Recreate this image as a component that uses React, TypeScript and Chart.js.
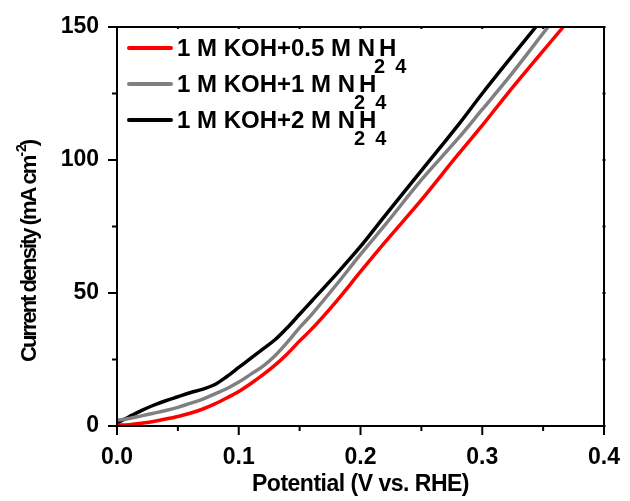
import React, { useEffect, useRef } from 'react';
import { Chart, registerables } from 'chart.js';
Chart.register(...registerables);

// Potential (V vs. RHE) and current density (mA cm^-2)
const potentialRed = [0, 0.01, 0.02, 0.03, 0.04, 0.05, 0.06, 0.07, 0.08, 0.09, 0.1, 0.11, 0.12, 0.13, 0.14, 0.15, 0.16, 0.18, 0.2, 0.22, 0.25, 0.28, 0.3, 0.32, 0.3665];
const currentRed = [0.3, 0.5, 1, 1.7, 2.6, 3.6, 4.8, 6.3, 8.2, 10.5, 13, 16, 19.3, 23, 27.2, 32, 36.5, 46.8, 58, 69, 85, 102, 113, 124.5, 150];

const potentialGray = [0, 0.01, 0.02, 0.03, 0.04, 0.05, 0.06, 0.07, 0.08, 0.09, 0.1, 0.11, 0.12, 0.13, 0.14, 0.15, 0.16, 0.18, 0.2, 0.22, 0.25, 0.28, 0.3, 0.32, 0.354];
const currentGray = [2.2, 2.8, 3.8, 4.8, 5.8, 7, 8.5, 10, 12, 14, 16.5, 19.5, 22.5, 26.5, 31.5, 37, 42, 53, 64.5, 75.5, 92.5, 108, 119, 130, 150];

const potentialBlack = [0, 0.01, 0.02, 0.03, 0.04, 0.05, 0.06, 0.07, 0.08, 0.09, 0.1, 0.11, 0.12, 0.13, 0.14, 0.15, 0.16, 0.18, 0.2, 0.22, 0.25, 0.28, 0.3, 0.32, 0.344];
const currentBlack = [1.1, 3.5, 5.8, 7.8, 9.5, 11, 12.5, 13.8, 15.5, 18.5, 22, 25.5, 29, 32.5, 37, 42, 47, 57, 67.5, 79, 96, 113, 125, 136.5, 150];

const seriesLabels = ['1 M KOH+0.5 M N₂H₄', '1 M KOH+1 M N₂H₄', '1 M KOH+2 M N₂H₄'];
const seriesColors = ['#ff0000', '#808080', '#000000'];

const xTitle = 'Potential (V vs. RHE)';
const yTitleMain = 'Current density (mA cm';
const yTitleSup = '-2';
const yTitleEnd = ')';

const xMin = 0, xMax = 0.4, xMajor = 0.1, xMinor = 0.05;
const yMin = 0, yMax = 150, yMajor = 50, yMinor = 25;

const FONT = '"Liberation Sans", Arial, sans-serif';

const isMajor = (v: number, step: number) => Math.abs(v / step - Math.round(v / step)) < 1e-6;

const toPoints = (xs: number[], ys: number[]) => xs.map((x, i) => ({ x, y: ys[i] }));

const subMap: Record<string, string> = { '₂': '2', '₄': '4' };

const decorPlugin = {
  id: 'decor',
  afterDraw(chart: any) {
    const { ctx, chartArea: a, scales } = chart;
    const xs = scales.x, ys = scales.y;
    ctx.save();
    ctx.strokeStyle = '#000';
    ctx.lineWidth = 2;
    ctx.strokeRect(a.left, a.top, a.right - a.left, a.bottom - a.top);
    ctx.lineWidth = 2;
    xs.ticks.forEach((t: any) => {
      const px = xs.getPixelForValue(t.value);
      const L = isMajor(t.value, xMajor) ? 9 : 5;
      ctx.beginPath();
      ctx.moveTo(px, a.bottom);
      ctx.lineTo(px, a.bottom + L);
      ctx.moveTo(px, a.top - 1);
      ctx.lineTo(px, a.top + 2);
      ctx.stroke();
    });
    ys.ticks.forEach((t: any) => {
      const py = ys.getPixelForValue(t.value);
      const L = isMajor(t.value, yMajor) ? 9 : 5;
      ctx.beginPath();
      ctx.moveTo(a.left, py);
      ctx.lineTo(a.left - L, py);
      ctx.moveTo(a.right + 1.5, py);
      ctx.lineTo(a.right - 1.5, py);
      ctx.stroke();
    });

    // x title
    ctx.fillStyle = '#000';
    ctx.font = `bold 23px ${FONT}`;
    (ctx as any).letterSpacing = '-0.5px';
    ctx.textAlign = 'center';
    ctx.textBaseline = 'alphabetic';
    ctx.fillText(xTitle, (a.left + a.right) / 2, 491);

    // y title (rotated)
    ctx.save();
    ctx.translate(36, 362);
    ctx.rotate(-Math.PI / 2);
    ctx.textAlign = 'left';
    ctx.font = `bold 22px ${FONT}`;
    (ctx as any).letterSpacing = '-2px';
    ctx.fillText(yTitleMain, 0, 0);
    let w = ctx.measureText(yTitleMain).width;
    ctx.font = `bold 14px ${FONT}`;
    (ctx as any).letterSpacing = '0px';
    ctx.fillText(yTitleSup, w, -10);
    w += ctx.measureText(yTitleSup).width - 2;
    ctx.font = `bold 22px ${FONT}`;
    ctx.fillText(yTitleEnd, w, 0);
    ctx.restore();

    // legend
    const rows = [48, 84, 120];
    seriesLabels.forEach((label, i) => {
      const y = rows[i];
      ctx.strokeStyle = seriesColors[i];
      ctx.lineWidth = 4;
      ctx.lineCap = 'round';
      ctx.beginPath();
      ctx.moveTo(129, y);
      ctx.lineTo(171, y);
      ctx.stroke();
      ctx.fillStyle = '#000';
      ctx.textAlign = 'left';
      ctx.textBaseline = 'alphabetic';
      let x = 177;
      const base = y + 8;
      for (const ch of Array.from(label)) {
        if (subMap[ch]) {
          ctx.font = `bold 20px ${FONT}`;
          (ctx as any).letterSpacing = '0px';
          ctx.fillText(subMap[ch], x - 1, base + 17);
          x += ctx.measureText(subMap[ch]).width * 0.35;
        } else {
          ctx.font = `bold 24px ${FONT}`;
          (ctx as any).letterSpacing = '0px';
          ctx.fillText(ch, x, base);
          x += ctx.measureText(ch).width;
        }
      }
    });
    ctx.restore();
  },
};

export default function App() {
  const ref = useRef<HTMLCanvasElement>(null);
  useEffect(() => {
    if (!ref.current) return;
    const data = [
      toPoints(potentialRed, currentRed),
      toPoints(potentialGray, currentGray),
      toPoints(potentialBlack, currentBlack),
    ];
    const chart = new Chart(ref.current, {
      type: 'line',
      data: {
        datasets: data.map((d, i) => ({
          label: seriesLabels[i],
          data: d,
          borderColor: seriesColors[i],
          backgroundColor: seriesColors[i],
          borderWidth: 3.5,
          pointRadius: 0,
          fill: false,
          cubicInterpolationMode: 'monotone' as const,
        })),
      },
      options: {
        animation: false,
        responsive: false,
        events: [],
        layout: { padding: { left: 0, top: 27, right: 25, bottom: 0 } },
        plugins: { legend: { display: false }, tooltip: { enabled: false } },
        scales: {
          x: {
            type: 'linear',
            min: xMin,
            max: xMax,
            grid: { display: false },
            border: { display: false },
            afterFit: (s: any) => { s.height = 75; },
            ticks: {
              stepSize: xMinor,
              autoSkip: false,
              maxRotation: 0,
              padding: 10,
              color: '#000',
              font: { family: FONT, size: 23, weight: 'bold' },
              callback: (v: any) => (isMajor(Number(v), xMajor) ? Number(v).toFixed(1) : ''),
            },
          },
          y: {
            type: 'linear',
            min: yMin,
            max: yMax,
            grid: { display: false },
            border: { display: false },
            afterFit: (s: any) => { s.width = 117; },
            ticks: {
              stepSize: yMinor,
              autoSkip: false,
              padding: 10,
              color: '#000',
              font: { family: FONT, size: 23, weight: 'bold' },
              callback: (v: any) => (isMajor(Number(v), yMajor) ? String(Math.round(Number(v))) : ''),
            },
          },
        },
      },
      plugins: [decorPlugin],
    } as any);
    return () => chart.destroy();
  }, []);
  return (
    <div style={{ position: 'fixed', left: 0, top: 0, width: 630, height: 501, background: '#fff' }}>
      <canvas ref={ref} width={630} height={501} style={{ display: 'block' }} />
    </div>
  );
}
